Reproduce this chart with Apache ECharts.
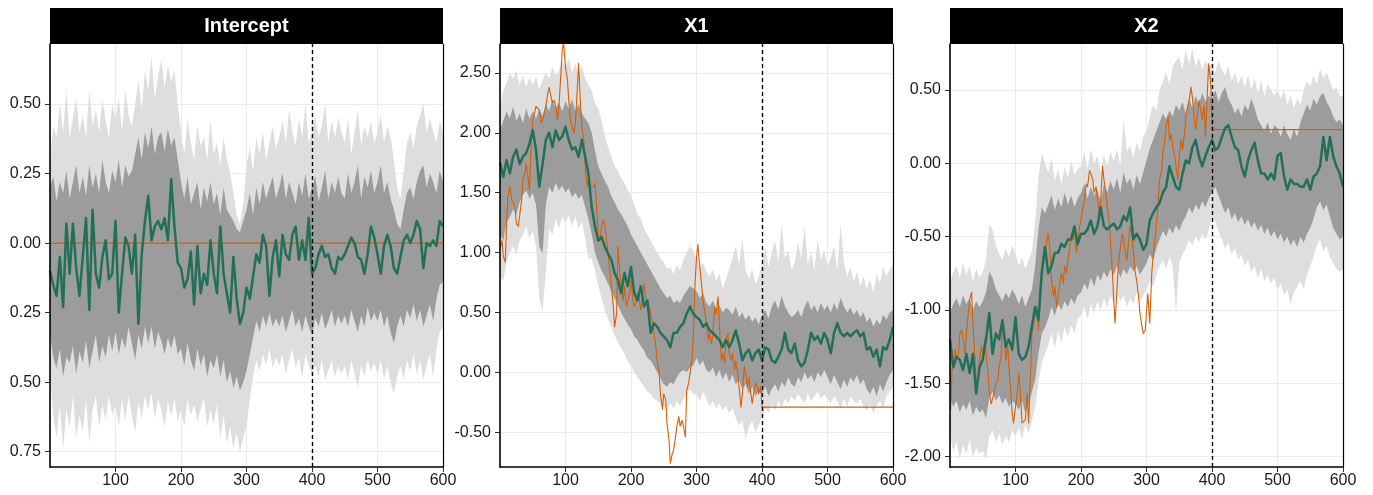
<!DOCTYPE html>
<html><head><meta charset="utf-8">
<script src="https://cdn.jsdelivr.net/npm/echarts@6/dist/echarts.min.js"></script>
<style>html,body{margin:0;padding:0;background:#fff}#c{width:1373px;height:495px}</style>
</head><body><div id="c"></div>
<script>
// time grid: every 5 steps, t = 0..600
const step = 5;
const forecastStart = 400;
const panelNames = ['Intercept', 'X1', 'X2'];
const xTicks = [100, 200, 300, 400, 500, 600];
const yTicksIntercept = [-0.75, -0.5, -0.25, 0, 0.25, 0.5];
const yTicksX1 = [-0.5, 0, 0.5, 1, 1.5, 2, 2.5];
const yTicksX2 = [-2, -1.5, -1, -0.5, 0, 0.5];

// ---------- Intercept ----------
const lightLoIntercept = [-0.48,-0.62,-0.70,-0.58,-0.74,-0.60,-0.66,-0.55,-0.70,-0.62,
 -0.68,-0.56,-0.72,-0.60,-0.55,-0.66,-0.58,-0.64,-0.55,-0.62,
 -0.58,-0.66,-0.56,-0.64,-0.55,-0.62,-0.68,-0.57,-0.63,-0.55,
 -0.60,-0.54,-0.63,-0.56,-0.60,-0.66,-0.57,-0.62,-0.56,-0.64,
 -0.60,-0.66,-0.56,-0.62,-0.58,-0.64,-0.60,-0.56,-0.66,-0.60,
 -0.65,-0.58,-0.70,-0.62,-0.72,-0.66,-0.74,-0.68,-0.75,-0.70,
 -0.66,-0.56,-0.48,-0.42,-0.46,-0.40,-0.44,-0.38,-0.45,-0.41,
 -0.44,-0.40,-0.47,-0.42,-0.38,-0.45,-0.41,-0.48,-0.40,-0.44,
 -0.48,-0.44,-0.48,-0.42,-0.49,-0.46,-0.42,-0.48,-0.44,-0.47,
 -0.44,-0.49,-0.42,-0.47,-0.52,-0.44,-0.48,-0.42,-0.46,-0.43,
 -0.47,-0.42,-0.49,-0.44,-0.50,-0.54,-0.48,-0.44,-0.49,-0.42,
 -0.46,-0.40,-0.47,-0.42,-0.49,-0.44,-0.40,-0.48,-0.38,-0.32,
 -0.30];
const darkLoIntercept = [-0.33,-0.41,-0.45,-0.38,-0.48,-0.41,-0.43,-0.37,-0.47,-0.39,
 -0.43,-0.35,-0.45,-0.39,-0.33,-0.43,-0.37,-0.41,-0.33,-0.39,
 -0.32,-0.40,-0.34,-0.38,-0.30,-0.36,-0.42,-0.33,-0.38,-0.30,
 -0.36,-0.30,-0.38,-0.32,-0.35,-0.40,-0.34,-0.38,-0.33,-0.40,
 -0.38,-0.44,-0.36,-0.42,-0.46,-0.38,-0.44,-0.40,-0.48,-0.42,
 -0.45,-0.40,-0.48,-0.42,-0.50,-0.46,-0.52,-0.48,-0.53,-0.50,
 -0.46,-0.40,-0.34,-0.28,-0.32,-0.26,-0.30,-0.25,-0.30,-0.27,
 -0.30,-0.26,-0.32,-0.28,-0.24,-0.30,-0.27,-0.32,-0.26,-0.30,
 -0.33,-0.27,-0.30,-0.25,-0.31,-0.28,-0.24,-0.30,-0.26,-0.29,
 -0.26,-0.30,-0.24,-0.28,-0.32,-0.26,-0.30,-0.23,-0.28,-0.25,
 -0.28,-0.24,-0.30,-0.26,-0.32,-0.36,-0.30,-0.26,-0.30,-0.24,
 -0.27,-0.22,-0.28,-0.24,-0.30,-0.26,-0.22,-0.28,-0.20,-0.15,
 -0.14];
const darkHiIntercept = [0.20,0.24,0.15,0.22,0.18,0.26,0.16,0.22,0.28,0.18,
 0.24,0.17,0.28,0.20,0.25,0.18,0.30,0.22,0.18,0.26,
 0.22,0.30,0.20,0.28,0.24,0.26,0.32,0.38,0.30,0.40,
 0.34,0.42,0.32,0.38,0.40,0.33,0.41,0.35,0.38,0.30,
 0.22,0.16,0.24,0.14,0.18,0.22,0.12,0.20,0.15,0.22,
 0.14,0.18,0.10,0.20,0.12,0.10,0.08,0.05,0.04,0.08,
 0.12,0.18,0.10,0.20,0.14,0.22,0.16,0.20,0.24,0.16,
 0.20,0.25,0.16,0.22,0.18,0.14,0.22,0.17,0.25,0.16,
 0.20,0.24,0.15,0.20,0.26,0.16,0.22,0.18,0.24,0.18,
 0.16,0.25,0.18,0.22,0.28,0.16,0.24,0.20,0.26,0.18,
 0.22,0.28,0.18,0.22,0.16,0.12,0.07,0.05,0.12,0.18,
 0.20,0.16,0.22,0.26,0.28,0.20,0.25,0.22,0.18,0.26,
 0.22];
const lightHiIntercept = [0.30,0.42,0.38,0.50,0.40,0.55,0.38,0.45,0.52,0.40,
 0.46,0.38,0.55,0.42,0.48,0.40,0.52,0.44,0.38,0.50,
 0.45,0.52,0.40,0.55,0.46,0.42,0.50,0.58,0.48,0.62,
 0.55,0.67,0.52,0.60,0.66,0.56,0.64,0.58,0.62,0.50,
 0.40,0.32,0.45,0.36,0.30,0.42,0.35,0.38,0.30,0.44,
 0.32,0.36,0.28,0.38,0.30,0.25,0.18,0.10,0.07,0.14,
 0.28,0.34,0.26,0.38,0.32,0.40,0.30,0.36,0.42,0.34,
 0.38,0.44,0.36,0.48,0.40,0.35,0.45,0.38,0.50,0.36,
 0.40,0.46,0.38,0.42,0.50,0.36,0.44,0.38,0.45,0.40,
 0.36,0.45,0.32,0.40,0.48,0.35,0.42,0.38,0.44,0.36,
 0.40,0.46,0.36,0.42,0.38,0.30,0.20,0.16,0.26,0.36,
 0.40,0.34,0.42,0.46,0.50,0.40,0.45,0.40,0.36,0.44,
 0.40];
const meanIntercept = [-0.10,-0.15,-0.19,-0.05,-0.23,0.07,-0.11,0.07,-0.09,-0.19,
 -0.05,0.09,-0.24,0.12,-0.11,-0.16,-0.05,0.01,-0.13,-0.11,
 0.08,-0.25,-0.11,0.02,-0.01,-0.11,0.03,-0.29,-0.04,0.08,
 0.17,0.01,0.06,0.08,0.05,0.09,0.01,0.23,0.06,-0.07,
 -0.09,-0.16,-0.13,-0.03,-0.22,-0.01,-0.18,-0.11,-0.15,0.01,
 -0.11,-0.18,0.06,-0.11,-0.18,-0.25,-0.05,-0.20,-0.29,-0.25,
 -0.16,-0.20,-0.12,-0.04,-0.07,0.03,-0.01,-0.19,-0.05,0.01,
 -0.12,0.03,-0.04,-0.06,0.03,0.06,-0.06,0.01,-0.06,0.09,
 -0.11,-0.09,-0.04,-0.01,-0.05,-0.04,-0.09,-0.11,-0.05,-0.06,
 -0.04,-0.01,0.02,0.00,-0.05,-0.06,-0.11,-0.04,0.06,0.02,
 -0.04,-0.11,-0.01,0.03,-0.01,-0.09,-0.11,-0.05,0.01,0.03,
 0.00,0.03,0.08,0.05,-0.09,0.00,-0.01,0.01,-0.01,0.08,
 0.06];
const truthIntercept = [[1,0],[400,0],[600,0]];

// ---------- X1 ----------
const lightLoX1 = [0.80,0.76,0.92,1.00,1.05,0.98,1.10,1.15,1.22,1.12,
 1.18,1.05,0.62,0.50,0.85,1.20,1.15,1.28,1.20,1.30,
 1.25,1.32,1.22,1.30,1.20,1.26,1.12,0.95,0.95,0.85,
 0.72,0.62,0.52,0.45,0.38,0.31,0.25,0.20,0.16,0.10,
 0.05,0.00,-0.04,-0.08,-0.12,-0.16,-0.18,-0.22,-0.24,-0.26,
 -0.28,-0.32,-0.26,-0.30,-0.24,-0.28,-0.22,-0.18,-0.14,-0.18,
 -0.18,-0.24,-0.16,-0.22,-0.28,-0.24,-0.30,-0.26,-0.32,-0.28,
 -0.34,-0.30,-0.38,-0.44,-0.40,-0.56,-0.46,-0.40,-0.50,-0.44,
 -0.38,-0.30,-0.34,-0.26,-0.32,-0.24,-0.30,-0.22,-0.26,-0.20,
 -0.24,-0.18,-0.22,-0.26,-0.18,-0.24,-0.20,-0.16,-0.22,-0.18,
 -0.22,-0.26,-0.20,-0.24,-0.30,-0.22,-0.28,-0.20,-0.24,-0.26,
 -0.22,-0.28,-0.32,-0.26,-0.34,-0.28,-0.24,-0.30,-0.20,-0.16,
 -0.12];
const darkLoX1 = [1.15,1.10,1.25,1.30,1.36,1.32,1.42,1.48,1.52,1.45,
 1.50,1.40,1.05,0.99,1.40,1.55,1.50,1.58,1.52,1.56,
 1.50,1.54,1.46,1.50,1.45,1.48,1.38,1.28,1.15,1.00,
 0.92,0.85,0.80,0.74,0.68,0.62,0.56,0.50,0.45,0.40,
 0.36,0.30,0.27,0.22,0.18,0.12,0.10,0.05,0.00,-0.05,
 -0.10,-0.12,-0.08,-0.10,-0.04,0.00,0.02,0.00,0.04,0.06,
 0.12,0.06,0.10,0.02,0.00,0.04,-0.04,0.02,-0.06,0.00,
 -0.08,-0.02,-0.10,-0.06,-0.14,-0.10,-0.18,-0.12,-0.20,-0.16,
 -0.18,-0.12,-0.20,-0.14,-0.10,-0.16,-0.08,-0.12,-0.04,-0.10,
 -0.12,-0.04,-0.08,0.00,-0.06,-0.02,-0.08,0.00,-0.04,0.02,
 -0.04,-0.10,-0.02,-0.08,-0.14,-0.06,-0.12,-0.04,-0.08,-0.02,
 -0.10,-0.06,-0.14,-0.18,-0.12,-0.20,-0.10,-0.16,-0.08,-0.02,
 0.02];
const darkHiX1 = [2.02,2.10,2.18,2.12,2.22,2.10,2.16,2.08,2.20,2.12,
 2.18,2.12,2.20,2.14,2.24,2.18,2.28,2.20,2.25,2.18,
 2.26,2.20,2.28,2.18,2.24,2.16,2.12,2.08,2.00,1.85,
 1.72,1.66,1.60,1.55,1.47,1.42,1.36,1.32,1.27,1.22,
 1.15,1.10,1.05,1.00,0.95,0.90,0.85,0.80,0.75,0.70,
 0.66,0.62,0.64,0.58,0.60,0.58,0.64,0.68,0.72,0.70,
 0.68,0.62,0.66,0.58,0.55,0.60,0.52,0.56,0.50,0.54,
 0.52,0.48,0.55,0.46,0.50,0.44,0.48,0.42,0.46,0.40,
 0.48,0.52,0.45,0.55,0.60,0.52,0.64,0.55,0.50,0.46,
 0.48,0.52,0.46,0.55,0.60,0.52,0.56,0.50,0.58,0.52,
 0.56,0.50,0.58,0.52,0.62,0.55,0.50,0.54,0.48,0.52,
 0.46,0.50,0.42,0.46,0.38,0.44,0.40,0.48,0.44,0.50,
 0.52];
const lightHiX1 = [2.22,2.35,2.42,2.50,2.45,2.52,2.40,2.48,2.38,2.46,
 2.40,2.47,2.36,2.44,2.50,2.45,2.55,2.48,2.52,2.60,
 2.55,2.62,2.50,2.58,2.48,2.56,2.45,2.40,2.35,2.25,
 2.20,2.10,1.98,1.88,1.80,1.72,1.68,1.62,1.58,1.52,
 1.48,1.40,1.32,1.28,1.20,1.15,1.10,1.05,1.00,0.95,
 0.92,0.86,0.88,0.82,0.90,0.85,0.94,1.00,1.05,1.02,
 0.95,0.88,0.92,0.84,0.80,0.86,0.76,0.82,0.70,0.78,
 0.86,0.96,1.05,0.90,1.12,0.85,0.78,0.86,0.74,0.80,
 0.90,1.05,0.88,1.00,1.10,0.92,1.24,0.95,1.02,0.86,
 0.92,1.08,0.95,1.22,0.90,1.00,0.85,1.10,0.94,1.02,
 0.88,0.96,1.05,0.85,1.24,0.92,0.80,0.88,0.76,0.84,
 0.72,0.80,0.70,0.78,0.66,0.82,0.74,0.88,0.80,0.86,
 0.90];
const meanX1 = [1.75,1.63,1.77,1.66,1.80,1.86,1.74,1.80,1.83,1.91,
 2.02,1.86,1.55,1.74,1.94,2.00,1.88,2.02,1.94,1.97,
 2.05,1.94,1.86,1.88,1.80,1.94,1.80,1.66,1.38,1.22,
 1.10,1.13,1.05,0.99,0.94,0.83,0.77,0.66,0.83,0.72,
 0.88,0.66,0.60,0.72,0.55,0.60,0.33,0.41,0.38,0.33,
 0.30,0.27,0.21,0.33,0.33,0.38,0.41,0.49,0.55,0.49,
 0.46,0.44,0.38,0.41,0.35,0.33,0.30,0.27,0.21,0.27,
 0.21,0.27,0.35,0.24,0.10,0.16,0.19,0.10,0.16,0.19,
 0.10,0.21,0.19,0.10,0.08,0.13,0.19,0.33,0.19,0.16,
 0.24,0.10,0.05,0.08,0.19,0.33,0.27,0.30,0.24,0.33,
 0.27,0.16,0.33,0.41,0.33,0.30,0.33,0.30,0.33,0.35,
 0.30,0.33,0.19,0.21,0.13,0.19,0.05,0.21,0.19,0.27,
 0.38];
const truthX1 = [[1,1.05],[3,1.10],[5,0.97],[8,0.92],[10,1.22],[12,1.47],[15,1.55],[18,1.44],[20,1.44],[23,1.38],[25,1.24],[28,1.22],[30,1.22],[33,1.44],[35,1.61],[38,1.66],[40,1.74],[43,1.62],[45,1.52],[48,1.94],[50,2.10],[55,2.22],[58,2.22],[60,2.19],[63,2.08],[65,2.11],[70,2.22],[73,2.33],[75,2.38],[78,2.30],[80,2.25],[83,2.27],[85,2.22],[88,2.11],[90,2.22],[93,2.50],[95,2.69],[97,2.75],[100,2.55],[103,2.44],[105,2.27],[108,2.08],[110,2.08],[113,2.00],[115,2.08],[118,2.36],[120,2.58],[123,2.22],[125,2.05],[128,1.94],[130,1.72],[133,1.55],[135,1.61],[138,1.55],[140,1.55],[143,1.55],[145,1.58],[148,1.33],[150,1.16],[153,1.10],[155,1.22],[158,1.27],[160,1.22],[163,1.10],[165,0.99],[168,0.83],[170,0.72],[173,0.55],[175,0.38],[178,0.49],[180,1.05],[183,0.83],[185,0.72],[188,0.60],[190,0.72],[193,0.55],[195,0.60],[198,0.66],[200,0.77],[203,0.60],[205,0.55],[208,0.60],[210,0.66],[213,0.60],[215,0.52],[218,0.66],[220,0.74],[223,0.60],[225,0.60],[228,0.55],[230,0.49],[233,0.41],[235,0.33],[238,0.21],[240,0.10],[243,-0.01],[245,-0.18],[248,-0.31],[250,-0.18],[253,-0.23],[255,-0.43],[258,-0.56],[260,-0.76],[263,-0.68],[265,-0.65],[268,-0.54],[270,-0.45],[273,-0.37],[275,-0.45],[278,-0.40],[280,-0.45],[283,-0.54],[285,-0.15],[288,-0.09],[290,-0.01],[293,0.10],[295,0.27],[298,0.77],[300,0.95],[302,1.07],[305,0.88],[308,0.72],[310,0.60],[313,0.49],[315,0.41],[318,0.27],[320,0.33],[323,0.24],[325,0.33],[328,0.55],[330,0.49],[333,0.63],[335,0.38],[338,0.10],[340,0.16],[343,0.08],[345,0.27],[348,0.33],[350,0.16],[353,0.10],[355,0.16],[358,0.02],[360,0.10],[363,-0.01],[365,-0.12],[368,-0.29],[370,-0.18],[373,0.05],[375,-0.01],[378,-0.12],[380,-0.04],[383,-0.18],[385,-0.26],[388,-0.15],[390,-0.09],[393,-0.12],[395,-0.18],[398,-0.12],[400,-0.29],[600,-0.29]];

// ---------- X2 ----------
const lightLoX2 = [-1.86,-1.96,-1.90,-2.02,-1.92,-1.98,-1.88,-2.00,-1.94,-1.98,
 -1.96,-2.02,-1.86,-1.82,-1.90,-1.84,-1.92,-1.86,-1.90,-1.82,
 -1.86,-1.80,-1.88,-1.78,-1.84,-1.76,-1.66,-1.50,-1.36,-1.30,
 -1.24,-1.16,-1.26,-1.14,-1.22,-1.12,-1.18,-1.10,-1.16,-1.06,
 -1.04,-0.98,-1.06,-0.96,-1.02,-0.94,-1.00,-0.92,-0.98,-0.90,
 -0.96,-0.88,-0.94,-0.90,-0.98,-0.92,-0.96,-0.88,-0.94,-0.90,
 -0.86,-0.80,-0.84,-0.76,-0.70,-0.66,-0.72,-0.64,-0.70,-1.02,
 -0.68,-0.62,-0.58,-0.52,-0.56,-0.50,-0.54,-0.48,-0.52,-0.46,
 -0.36,-0.40,-0.46,-0.52,-0.58,-0.54,-0.62,-0.58,-0.66,-0.62,
 -0.70,-0.66,-0.74,-0.70,-0.78,-0.72,-0.80,-0.76,-0.82,-0.78,
 -0.86,-0.82,-0.90,-0.86,-0.96,-0.88,-0.84,-0.80,-0.86,-0.76,
 -0.70,-0.64,-0.56,-0.52,-0.60,-0.56,-0.64,-0.68,-0.72,-0.74,
 -0.72];
const darkLoX2 = [-1.60,-1.66,-1.62,-1.70,-1.64,-1.68,-1.62,-1.72,-1.66,-1.70,
 -1.68,-1.74,-1.60,-1.56,-1.62,-1.58,-1.64,-1.60,-1.66,-1.62,
 -1.64,-1.68,-1.62,-1.70,-1.64,-1.56,-1.48,-1.30,-1.16,-1.12,
 -1.06,-0.98,-1.04,-0.96,-1.00,-0.94,-0.98,-0.92,-0.96,-0.90,
 -0.88,-0.82,-0.86,-0.78,-0.84,-0.76,-0.80,-0.74,-0.78,-0.72,
 -0.76,-0.70,-0.78,-0.72,-0.76,-0.70,-0.74,-0.70,-0.76,-0.72,
 -0.68,-0.62,-0.66,-0.58,-0.52,-0.46,-0.50,-0.44,-0.48,-0.42,
 -0.46,-0.40,-0.36,-0.30,-0.34,-0.28,-0.32,-0.26,-0.30,-0.24,
 -0.20,-0.16,-0.22,-0.28,-0.34,-0.30,-0.38,-0.34,-0.40,-0.36,
 -0.42,-0.38,-0.44,-0.40,-0.46,-0.42,-0.48,-0.44,-0.50,-0.46,
 -0.52,-0.48,-0.54,-0.50,-0.56,-0.52,-0.57,-0.50,-0.54,-0.48,
 -0.44,-0.38,-0.30,-0.26,-0.32,-0.28,-0.36,-0.44,-0.48,-0.52,
 -0.50];
const darkHiX2 = [-1.02,-0.96,-0.92,-0.98,-0.90,-0.96,-0.92,-1.00,-0.94,-0.98,
 -0.94,-0.88,-0.74,-0.78,-0.86,-0.90,-0.94,-0.88,-0.92,-0.86,
 -0.90,-0.96,-0.90,-0.98,-0.92,-0.86,-0.70,-0.45,-0.30,-0.34,
 -0.28,-0.22,-0.32,-0.24,-0.30,-0.20,-0.28,-0.22,-0.30,-0.24,
 -0.20,-0.14,-0.24,-0.16,-0.22,-0.18,-0.26,-0.14,-0.20,-0.12,
 -0.18,-0.10,-0.20,-0.06,-0.14,-0.10,-0.18,-0.08,-0.14,-0.06,
 0.02,0.10,0.16,0.22,0.28,0.34,0.30,0.36,0.32,0.40,
 0.36,0.42,0.34,0.44,0.38,0.46,0.40,0.48,0.42,0.46,
 0.44,0.50,0.42,0.48,0.52,0.44,0.40,0.34,0.38,0.32,
 0.40,0.36,0.44,0.38,0.30,0.26,0.22,0.28,0.20,0.26,
 0.24,0.18,0.26,0.20,0.16,0.24,0.18,0.28,0.34,0.40,
 0.36,0.44,0.40,0.46,0.48,0.42,0.38,0.32,0.28,0.30,
 0.26];
const lightHiX2 = [-0.80,-0.74,-0.70,-0.78,-0.68,-0.76,-0.70,-0.80,-0.72,-0.78,
 -0.74,-0.66,-0.42,-0.45,-0.56,-0.62,-0.66,-0.58,-0.64,-0.56,
 -0.62,-0.70,-0.64,-0.72,-0.66,-0.60,-0.40,-0.10,0.07,0.00,
 -0.06,0.04,-0.12,-0.04,-0.14,-0.02,-0.10,0.02,-0.08,-0.04,
 -0.02,0.08,-0.05,0.10,0.00,0.05,-0.06,0.06,-0.02,0.08,
 0.02,0.10,-0.02,0.30,0.08,0.12,0.04,0.14,0.08,0.18,
 0.22,0.32,0.40,0.36,0.50,0.56,0.62,0.54,0.66,0.70,
 0.72,0.64,0.77,0.68,0.78,0.66,0.72,0.64,0.70,0.66,
 0.68,0.62,0.70,0.64,0.60,0.66,0.56,0.62,0.54,0.60,
 0.52,0.60,0.50,0.58,0.48,0.56,0.46,0.54,0.50,0.46,
 0.50,0.44,0.50,0.40,0.46,0.38,0.44,0.40,0.50,0.56,
 0.52,0.60,0.54,0.64,0.58,0.62,0.56,0.50,0.52,0.46,
 0.46];
const meanX2 = [-1.20,-1.39,-1.32,-1.34,-1.41,-1.30,-1.43,-1.30,-1.57,-1.39,
 -1.34,-1.20,-1.02,-1.30,-1.16,-1.20,-1.07,-1.25,-1.20,-1.27,
 -1.05,-1.30,-1.34,-1.32,-1.25,-1.11,-0.98,-1.07,-0.75,-0.57,
 -0.75,-0.70,-0.61,-0.61,-0.55,-0.57,-0.52,-0.52,-0.43,-0.55,
 -0.48,-0.48,-0.45,-0.39,-0.48,-0.43,-0.30,-0.43,-0.45,-0.43,
 -0.41,-0.45,-0.43,-0.36,-0.39,-0.30,-0.52,-0.48,-0.52,-0.59,
 -0.55,-0.39,-0.34,-0.30,-0.27,-0.20,-0.16,-0.02,-0.09,-0.16,
 -0.18,-0.07,0.02,0.00,0.11,0.16,0.05,-0.02,0.05,0.11,
 0.16,0.09,0.11,0.18,0.24,0.26,0.18,0.11,0.09,-0.02,
 -0.09,0.02,0.09,0.14,0.02,-0.07,-0.07,-0.11,-0.07,-0.11,
 0.05,0.07,-0.09,-0.18,-0.11,-0.14,-0.14,-0.16,-0.16,-0.11,
 -0.18,-0.09,-0.07,-0.02,0.18,0.02,0.18,0.05,-0.02,-0.07,
 -0.16];
const truthX2 = [[1,-1.68],[3,-1.41],[5,-1.39],[8,-1.27],[10,-1.34],[13,-1.30],[15,-1.16],[18,-1.14],[20,-1.20],[23,-1.30],[25,-1.16],[28,-1.02],[30,-0.93],[33,-0.88],[35,-1.09],[38,-1.32],[40,-1.52],[43,-1.48],[45,-1.34],[48,-1.25],[50,-1.30],[53,-1.20],[55,-1.30],[58,-1.43],[60,-1.57],[63,-1.64],[65,-1.64],[68,-1.55],[70,-1.50],[73,-1.48],[75,-1.39],[78,-1.32],[80,-1.09],[83,-1.20],[85,-1.34],[88,-1.25],[90,-1.39],[93,-1.57],[95,-1.71],[97,-1.77],[100,-1.77],[103,-1.55],[105,-1.43],[108,-1.61],[110,-1.77],[113,-1.77],[115,-1.75],[118,-1.57],[120,-1.77],[123,-1.43],[125,-1.16],[128,-1.09],[130,-1.02],[133,-0.98],[135,-1.14],[138,-0.89],[140,-0.75],[143,-0.61],[145,-0.64],[148,-0.52],[150,-0.48],[153,-0.61],[155,-0.80],[158,-0.91],[160,-0.84],[163,-0.98],[165,-0.91],[168,-0.80],[170,-0.75],[173,-0.82],[175,-0.70],[178,-0.75],[180,-0.66],[183,-0.57],[185,-0.48],[188,-0.52],[190,-0.43],[193,-0.61],[195,-0.52],[198,-0.43],[200,-0.43],[203,-0.30],[205,-0.25],[208,-0.14],[210,-0.16],[213,-0.05],[215,-0.07],[218,-0.11],[220,-0.20],[223,-0.16],[225,-0.23],[228,-0.34],[230,-0.25],[233,-0.02],[235,-0.11],[238,-0.20],[240,-0.30],[243,-0.39],[245,-0.52],[248,-0.75],[250,-0.93],[252,-1.09],[254,-0.93],[257,-0.70],[260,-0.57],[263,-0.48],[265,-0.52],[268,-0.61],[270,-0.66],[273,-0.52],[275,-0.43],[278,-0.50],[280,-0.61],[283,-0.75],[285,-0.80],[288,-0.91],[290,-1.02],[293,-1.11],[295,-1.16],[298,-1.14],[300,-1.14],[302,-0.89],[305,-1.09],[308,-0.75],[310,-0.64],[313,-0.52],[315,-0.43],[318,-0.25],[320,-0.11],[323,-0.05],[325,0.07],[328,0.16],[330,0.25],[333,0.32],[335,0.16],[338,0.20],[340,0.11],[343,0.05],[345,-0.02],[348,-0.11],[350,0.05],[353,0.16],[355,0.09],[358,0.20],[360,0.32],[363,0.39],[365,0.43],[368,0.52],[370,0.45],[373,0.30],[375,0.23],[378,0.34],[380,0.43],[383,0.36],[385,0.30],[388,0.39],[390,0.18],[393,0.50],[395,0.68],[398,0.55],[400,0.23],[600,0.23]];

// axis ranges per panel
const yMin = [-0.805, -0.79, -2.071];
const yMax = [0.716, 2.741, 0.814];
const yStep = [0.25, 0.5, 0.5];
const yTicks = [yTicksIntercept, yTicksX1, yTicksX2];

// ---------- build ----------
const panelData = [
  {lightLo: lightLoIntercept, lightHi: lightHiIntercept, darkLo: darkLoIntercept, darkHi: darkHiIntercept, mean: meanIntercept, truth: truthIntercept},
  {lightLo: lightLoX1, lightHi: lightHiX1, darkLo: darkLoX1, darkHi: darkHiX1, mean: meanX1, truth: truthX1},
  {lightLo: lightLoX2, lightHi: lightHiX2, darkLo: darkLoX2, darkHi: darkHiX2, mean: meanX2, truth: truthX2}
];
const gridLeft = [50, 500, 950];
const gridTop = 44, gridW = 393, gridH = 423;
const FONT = '"Liberation Sans", Arial, Helvetica, sans-serif';
const LIGHT = '#dedede', DARK = '#9c9c9c', GREEN = '#23705a', ORANGE = '#d95f02';

const tx = (i) => i * step;

// ribbon drawn as one polygon through the library's coordinate system
function bandSeries(g, lo, hi, color) {
  const rows = lo.map((v, i) => [tx(i), v, hi[i]]);
  return {
    type: 'custom', xAxisIndex: g, yAxisIndex: g, silent: true, z: 2, clip: true,
    encode: {x: 0, y: [1, 2]},
    data: rows,
    renderItem: function (params, api) {
      if (params.dataIndex !== 0) return null;
      const upper = rows.map(r => api.coord([r[0], r[2]]));
      const lower = rows.map(r => api.coord([r[0], r[1]])).reverse();
      return {type: 'polygon', shape: {points: upper.concat(lower)},
        style: {fill: color, stroke: null}};
    }
  };
}

const series = [];
const xAxes = [], yAxes = [];
panelData.forEach((p, g) => {
  series.push(bandSeries(g, p.lightLo, p.lightHi, LIGHT));
  series.push(bandSeries(g, p.darkLo, p.darkHi, DARK));
  series.push({type: 'line', xAxisIndex: g, yAxisIndex: g, data: p.truth, symbol: 'none', silent: true,
    lineStyle: {color: ORANGE, width: 1.1, join: 'round'}, z: 3});
  series.push({type: 'line', xAxisIndex: g, yAxisIndex: g, data: p.mean.map((v, i) => [tx(i), v]),
    symbol: 'none', silent: true, lineStyle: {color: GREEN, width: 2.5, join: 'round'}, z: 4,
    markLine: {silent: true, symbol: ['none', 'none'], label: {show: false}, animation: false,
      lineStyle: {color: '#000', type: [4, 3], width: 1.4}, emphasis: {disabled: true},
      data: [{xAxis: forecastStart}]}});

  xAxes.push({type: 'value', gridIndex: g, min: 0, max: 600, interval: 100,
    axisLine: {show: true, onZero: false, lineStyle: {color: '#000', width: 1.6}},
    axisTick: {show: true, length: 5, customValues: xTicks, lineStyle: {color: '#333', width: 1}},
    axisLabel: {show: true, margin: 6, fontSize: 16, color: '#1a1a1a', fontFamily: FONT, customValues: xTicks,
      formatter: v => (xTicks.indexOf(Math.round(v)) >= 0 ? String(Math.round(v)) : '')},
    splitLine: {show: true, lineStyle: {color: '#ebebeb', width: 1}}});

  const s = yStep[g];
  yAxes.push({type: 'value', gridIndex: g, min: yMin[g], max: yMax[g], minInterval: s, maxInterval: s,
    axisLine: {show: false},
    axisTick: {show: true, length: 5, customValues: yTicks[g], lineStyle: {color: '#333', width: 1}},
    axisLabel: {show: true, margin: 9, fontSize: 16, color: '#1a1a1a', fontFamily: FONT, customValues: yTicks[g],
      formatter: v => {
        const k = v / s;
        if (Math.abs(k - Math.round(k)) > 1e-6) return '';
        const val = Math.round(k) * s;
        return g === 0 ? Math.abs(val).toFixed(2) : val.toFixed(2);
      }},
    splitLine: {show: true, lineStyle: {color: '#ebebeb', width: 1}}});
});
// frame lines drawn above the ribbons
panelData.forEach((p, g) => {
  yAxes.push({type: 'value', gridIndex: g, position: 'left', min: yMin[g], max: yMax[g], z: 10,
    axisLine: {show: true, onZero: false, lineStyle: {color: '#000', width: 1.6}},
    axisTick: {show: false}, axisLabel: {show: false}, splitLine: {show: false}});
  yAxes.push({type: 'value', gridIndex: g, position: 'right', min: yMin[g], max: yMax[g], z: 10,
    axisLine: {show: true, onZero: false, lineStyle: {color: '#000', width: 1.2}},
    axisTick: {show: false}, axisLabel: {show: false}, splitLine: {show: false}});
});

const graphics = [];
gridLeft.forEach((l, g) => {
  graphics.push({type: 'rect', shape: {x: l, y: 8, width: gridW, height: 36}, style: {fill: '#000'}, z: 20});
  graphics.push({type: 'text', x: l + gridW / 2, y: 26, z: 21,
    style: {text: panelNames[g], fill: '#fff', font: 'bold 20px ' + FONT,
      textAlign: 'center', textVerticalAlign: 'middle', align: 'center', verticalAlign: 'middle'}});
});

const chart = echarts.init(document.getElementById('c'), null, {renderer: 'canvas'});
chart.setOption({
  animation: false,
  backgroundColor: '#fff',
  grid: gridLeft.map(l => ({left: l, top: gridTop, width: gridW, height: gridH, show: false})),
  xAxis: xAxes,
  yAxis: yAxes,
  series: series,
  graphic: graphics
});
</script></body></html>
